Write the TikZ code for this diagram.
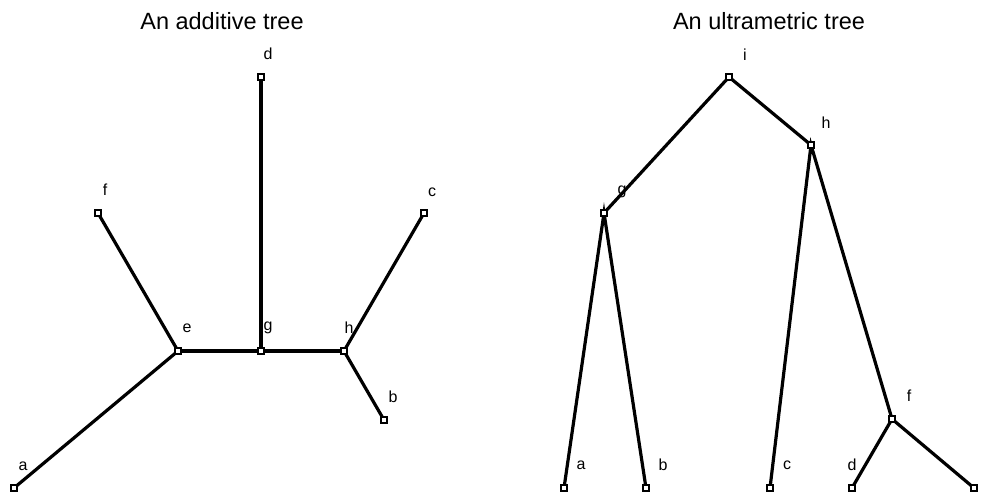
\documentclass[tikz,border=0pt]{standalone}
\usepackage{fontspec}
\setmainfont{Liberation Sans}
\begin{document}
\begin{tikzpicture}[x=1pt,y=-1pt,
  edge/.style={line width=3.2pt,line cap=round},
  vtx/.style={draw=black,fill=white,line width=1.2pt,minimum size=6pt,inner sep=0pt,rectangle},
  lbl/.style={font=\fontsize{16}{16}\selectfont,inner sep=0pt},
  ttl/.style={font=\fontsize{23.5}{23.5}\selectfont,inner sep=0pt}]
\useasboundingbox (0,0) rectangle (987,492);
\fill[white] (0,0) rectangle (987,492);
\node[ttl] (t1) at (222,21) {An additive tree};
\node[ttl] (t2) at (769,21) {An ultrametric tree};
% left tree
\coordinate (La) at (14,488);
\coordinate (Le) at (178,351);
\coordinate (Lf) at (98,213);
\coordinate (Lg) at (261,351);
\coordinate (Ld) at (261,77);
\coordinate (Lh) at (344,351);
\coordinate (Lc) at (424,213);
\coordinate (Lb) at (384,420);
\draw[edge] (La) -- (Le) -- (Lf);
\draw[edge] (Le) -- (Lg) -- (Lh);
\draw[edge] (Lg) -- (Ld);
\draw[edge] (Lh) -- (Lc);
\draw[edge] (Lh) -- (Lb);
\foreach \n in {La,Le,Lf,Lg,Ld,Lh,Lc,Lb} \node[vtx] (v\n) at (\n) {};
\node[lbl] (la) at (23,466) {a};
\node[lbl] (lb) at (393,397) {b};
\node[lbl] (lc) at (432,192) {c};
\node[lbl] (ld) at (268,54) {d};
\node[lbl] (le) at (187,328) {e};
\node[lbl] (lf) at (105,190) {f};
\node[lbl] (lg) at (268,328) {g};
\node[lbl] (lh) at (349,328) {h};
% right tree
\coordinate (Ri) at (729,77);
\coordinate (Rh) at (811,145);
\coordinate (Rg) at (604,213);
\coordinate (Rf) at (892,419);
\coordinate (Ra) at (564,488);
\coordinate (Rb) at (646,488);
\coordinate (Rc) at (770,488);
\coordinate (Rd) at (852,488);
\coordinate (Re) at (974,488);
\draw[edge] (Rg) -- (Ri) -- (Rh);
\draw[edge] (Ra) -- (Rg) -- (Rb);
\draw[edge] (Rc) -- (Rh) -- (Rf);
\draw[edge] (Rd) -- (Rf) -- (Re);
\foreach \n in {Ri,Rh,Rg,Rf,Ra,Rb,Rc,Rd,Re} \node[vtx] (v\n) at (\n) {};
\node[lbl] (ri) at (745,55) {i};
\node[lbl] (rh) at (826,123) {h};
\node[lbl] (rg) at (622,192) {g};
\node[lbl] (rf) at (909,396) {f};
\node[lbl] (ra) at (581,465) {a};
\node[lbl] (rb) at (663,465) {b};
\node[lbl] (rc) at (787,465) {c};
\node[lbl] (rd) at (852,465) {d};
\end{tikzpicture}
\end{document}
